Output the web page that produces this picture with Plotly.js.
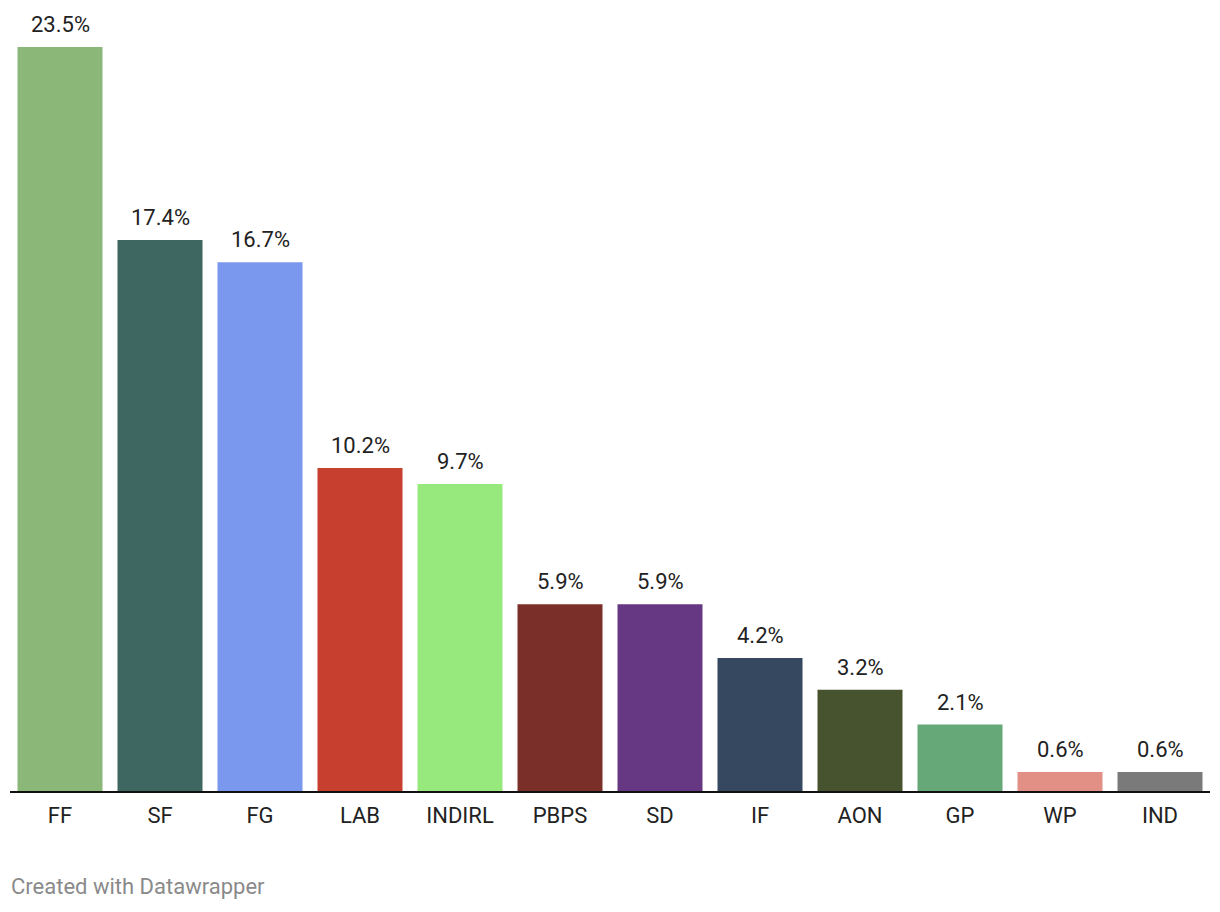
<!DOCTYPE html>
<html>
<head>
<meta charset="utf-8">
<script src="https://cdn.plot.ly/plotly-3.0.1.min.js"></script>
<style>html,body{margin:0;padding:0;background:#fff;}#chart{width:1220px;height:912px;}</style>
</head>
<body>
<div id="chart"></div>
<script>
const parties = ["FF","SF","FG","LAB","INDIRL","PBPS","SD","IF","AON","GP","WP","IND"];
const shares = [23.5,17.4,16.7,10.2,9.7,5.9,5.9,4.2,3.2,2.1,0.6,0.6];
const colors = ["#8bb878","#3f6762","#7b98ef","#c63f2f","#97e87d","#7a3029","#663783","#35485f","#47522e","#67a878","#e29085","#7a7a7a"];

const trace = {
  type: "bar",
  x: parties,
  y: shares,
  marker: {color: colors, line: {width: 0}},
  hoverinfo: "x+y"
};

const valueLabels = parties.map((p, i) => ({
  x: p, y: shares[i], xref: "x", yref: "y",
  text: shares[i].toFixed(1) + "%",
  showarrow: false, yanchor: "bottom", yshift: 8,
  font: {family: "Roboto, sans-serif", size: 22, color: "#222"}
}));

const layout = {
  width: 1220, height: 912,
  margin: {l: 10, r: 10, t: 47, b: 121},
  paper_bgcolor: "#fff", plot_bgcolor: "#fff",
  bargap: 0.15,
  showlegend: false,
  font: {family: "Roboto, sans-serif", color: "#222"},
  xaxis: {
    type: "category",
    range: [-0.5, 11.5],
    showline: true, linecolor: "#111", linewidth: 2,
    ticks: "", showgrid: false, zeroline: false,
    tickfont: {family: "Roboto, sans-serif", size: 22, color: "#222"},
    ticklabelstandoff: 4,
    fixedrange: true
  },
  yaxis: {
    range: [0, 23.5],
    visible: false, showgrid: false, zeroline: false,
    fixedrange: true
  },
  annotations: valueLabels.concat([{
    text: "Created with Datawrapper",
    xref: "paper", yref: "paper",
    x: 0, xanchor: "left", xshift: -1,
    y: 0, yanchor: "middle", yshift: -95,
    showarrow: false,
    font: {family: "Roboto, sans-serif", size: 22, color: "#8a8a8a"}
  }])
};

Plotly.newPlot("chart", [trace], layout, {displayModeBar: false, staticPlot: true});
</script>
</body>
</html>
